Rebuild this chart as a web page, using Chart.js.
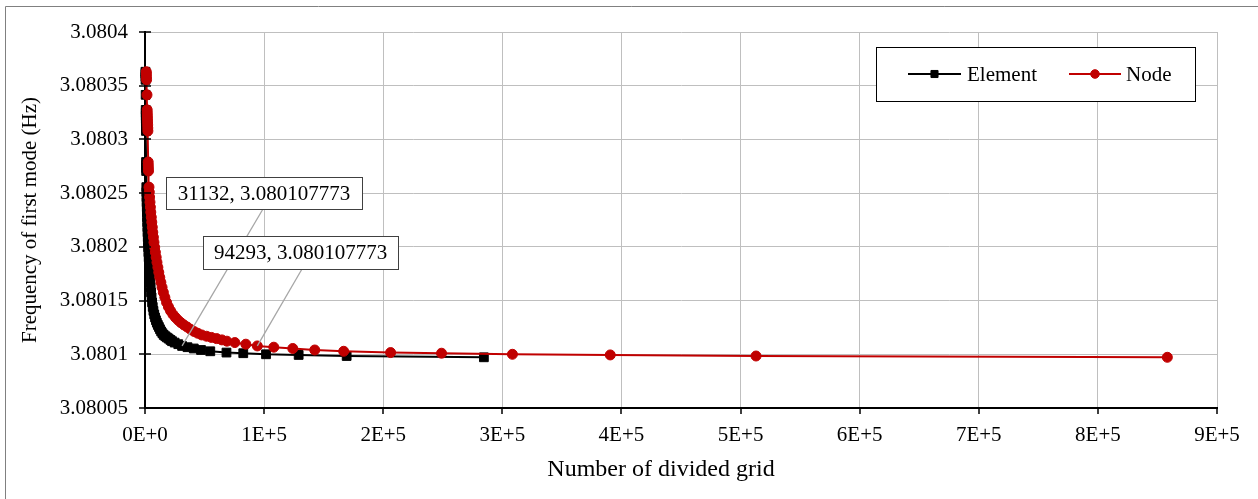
<!DOCTYPE html>
<html><head><meta charset="utf-8">
<script src="https://cdn.jsdelivr.net/npm/chart.js@4.4.0/dist/chart.umd.min.js"></script>
<style>html,body{margin:0;padding:0;background:#fff;}canvas{display:block;}</style>
</head><body>
<canvas id="c" width="1258" height="499"></canvas>
<script>
// ---- data ----
const seriesNames = ['Element', 'Node'];
const elementCount = [360,387,415,443,553,609,636,664,692,719,747,775,802,885,913,941,968,
  1107,1189,1273,1383,1494,1605,1743,1881,2019,2158,2324,2490,2684,2877,3098,3319,3569,3817,
  4094,4398,4730,5090,5505,5975,6501,7082,7746,8437,9184,9959,10789,11674,12587,13555,14606,
  15713,17068,18396,19835,21300,22685,24898,27941,31132,35686,40943,47029,54800,68400,82500,
  101600,129000,169300,284500];
const nodeCount = [1090,1173,1257,1341,1676,1844,1928,2012,2096,2179,2263,2347,2431,2682,2766,2850,2934,
  3353,3604,3856,4191,4526,4862,5281,5700,6119,6538,7041,7544,8131,8717,9388,10058,10813,11567,
  12405,13327,14333,15423,16680,18105,19698,21458,23470,25565,27828,30175,32690,35372,38138,41072,44257,
  47610,51717,55741,60101,64541,68734,75440,84660,94293,108130,124057,142498,166806,206203,248952,
  308466,390612,512992,858300];
const frequency = [3.0803630,3.0803611,3.0803583,3.0803555,3.0803415,3.0803275,3.0803247,3.0803219,
  3.0803191,3.0803163,3.0803135,3.0803107,3.0803079,3.0802790,3.0802762,3.0802734,3.0802706,
  3.0802556,3.0802510,3.0802463,3.0802416,3.0802370,3.0802323,3.0802276,3.0802230,3.0802183,
  3.0802136,3.0802090,3.0802043,3.0801996,3.0801950,3.0801903,3.0801856,3.0801810,3.0801763,
  3.0801716,3.0801670,3.0801623,3.0801576,3.0801530,3.0801483,3.0801441,3.0801404,3.0801371,
  3.0801343,3.0801317,3.0801294,3.0801273,3.0801254,3.0801233,3.0801213,3.0801196,3.0801180,
  3.0801168,3.0801157,3.0801146,3.0801134,3.0801122,3.0801109,3.0801094,3.080107773,3.0801066,
  3.0801054,3.0801040,3.0801028,3.0801016,3.0801010,3.0801000,3.0800994,3.0800984,3.0800972];
const xTickValues = [0,100000,200000,300000,400000,500000,600000,700000,800000,900000];
const xTickLabels = ['0E+0','1E+5','2E+5','3E+5','4E+5','5E+5','6E+5','7E+5','8E+5','9E+5'];
const yTickValues = [3.08005,3.0801,3.08015,3.0802,3.08025,3.0803,3.08035,3.0804];
const yTickLabels = ['3.08005','3.0801','3.08015','3.0802','3.08025','3.0803','3.08035','3.0804'];
const xTitle = 'Number of divided grid';
const yTitle = 'Frequency of first mode (Hz)';
const callouts = [
  {series: 0, index: 60, text: '31132, 3.080107773'},
  {series: 1, index: 60, text: '94293, 3.080107773'}
];

// ---- layout / style ----
const FONT = "'Liberation Serif','Times New Roman',serif";
const FS = 21;
const X_TITLE_FS = 24;
const calloutBoxes = [
  {left: 166, top: 177, width: 196, height: 32, anchorX: 263},
  {left: 203, top: 236, width: 195, height: 33, anchorX: 302}
];
Chart.defaults.font.family = FONT;
Chart.defaults.font.size = FS;
Chart.defaults.color = '#000';

const decor = {
  id: 'decor',
  afterDraw(chart) {
    const ctx = chart.ctx;
    const xs = chart.scales.x, ys = chart.scales.y;
    ctx.save();
    // outer frame
    ctx.strokeStyle = '#808080'; ctx.lineWidth = 1;
    ctx.beginPath(); ctx.moveTo(5.5, 499); ctx.lineTo(5.5, 6.5); ctx.lineTo(1258, 6.5); ctx.stroke();
    // tick marks
    ctx.strokeStyle = '#000'; ctx.lineWidth = 1.5;
    ctx.beginPath();
    yTickValues.forEach(v => { const y = Math.round(ys.getPixelForValue(v)); ctx.moveTo(xs.left - 6, y); ctx.lineTo(xs.left + 6, y); });
    xTickValues.forEach(v => { const x = Math.round(xs.getPixelForValue(v)); ctx.moveTo(x, ys.bottom); ctx.lineTo(x, ys.bottom + 6); });
    ctx.stroke();
    // x axis title
    ctx.fillStyle = '#000'; ctx.font = X_TITLE_FS + 'px ' + FONT;
    ctx.textAlign = 'center'; ctx.textBaseline = 'middle';
    ctx.fillText(xTitle, 661, 470);
    // callouts
    callouts.forEach((c, i) => {
      const b = calloutBoxes[i];
      const pt = chart.getDatasetMeta(c.series).data[c.index];
      ctx.strokeStyle = '#A6A6A6'; ctx.lineWidth = 1.3;
      ctx.beginPath(); ctx.moveTo(b.anchorX, b.top + b.height); ctx.lineTo(pt.x, pt.y); ctx.stroke();
      ctx.fillStyle = '#fff'; ctx.fillRect(b.left, b.top, b.width, b.height);
      ctx.strokeStyle = '#404040'; ctx.lineWidth = 1;
      ctx.strokeRect(b.left + 0.5, b.top + 0.5, b.width, b.height);
      ctx.fillStyle = '#000'; ctx.font = FS + 'px ' + FONT;
      ctx.textAlign = 'center'; ctx.textBaseline = 'middle';
      ctx.fillText(c.text, b.left + b.width / 2, b.top + b.height / 2 + 1);
    });
    // legend
    ctx.fillStyle = '#fff'; ctx.fillRect(876, 47, 320, 54);
    ctx.strokeStyle = '#000'; ctx.lineWidth = 1; ctx.strokeRect(876.5, 47.5, 319, 54);
    const items = [{x0: 908, x1: 961, tx: 967, r: 5}, {x0: 1069, x1: 1121, tx: 1126, r: 4.3}];
    const ly = 74;
    chart.data.datasets.forEach((ds, i) => {
      const it = items[i];
      ctx.strokeStyle = ds.borderColor; ctx.lineWidth = 2;
      ctx.beginPath(); ctx.moveTo(it.x0, ly); ctx.lineTo(it.x1, ly); ctx.stroke();
      ctx.fillStyle = ds.backgroundColor; ctx.lineWidth = 1;
      Chart.helpers.drawPoint(ctx, {pointStyle: ds.pointStyle, radius: it.r, borderWidth: 1}, (it.x0 + it.x1) / 2, ly);
      ctx.fillStyle = '#000'; ctx.font = FS + 'px ' + FONT;
      ctx.textAlign = 'left'; ctx.textBaseline = 'middle';
      ctx.fillText(ds.label, it.tx, ly + 1);
    });
    ctx.restore();
  }
};

const mk = (xs, ys) => xs.map((x, i) => ({x: x, y: ys[i]}));

new Chart(document.getElementById('c').getContext('2d'), {
  type: 'line',
  data: {
    datasets: [
      {label: seriesNames[0], data: mk(elementCount, frequency), borderColor: '#000000', backgroundColor: '#000000',
       borderWidth: 2, pointStyle: 'rect', pointRadius: 6.2, pointBorderWidth: 1, tension: 0, order: 2, clip: false},
      {label: seriesNames[1], data: mk(nodeCount, frequency), borderColor: '#C00000', backgroundColor: '#C00000',
       borderWidth: 2, pointStyle: 'circle', pointRadius: 5, pointBorderWidth: 1, tension: 0, order: 1, clip: false}
    ]
  },
  options: {
    responsive: false, animation: false, devicePixelRatio: 1, events: [],
    layout: {padding: {left: 0, top: 32, right: 41, bottom: 0}},
    plugins: {legend: {display: false}, tooltip: {enabled: false}},
    scales: {
      x: {
        type: 'linear', min: 0, max: 900000,
        afterBuildTicks: s => { s.ticks = xTickValues.map(v => ({value: v})); },
        afterFit: s => { s.height = 91; },
        ticks: {callback: (v, i) => xTickLabels[i], padding: 15, maxRotation: 0, autoSkip: false},
        grid: {color: '#BFBFBF', lineWidth: 1, drawTicks: false},
        border: {display: true, color: '#000', width: 2},
        title: {display: false, text: xTitle}
      },
      y: {
        type: 'linear', min: 3.08005, max: 3.0804,
        afterBuildTicks: s => { s.ticks = yTickValues.map(v => ({value: v})); },
        afterFit: s => { s.width = 145; },
        ticks: {callback: (v, i) => yTickLabels[i], padding: 17, autoSkip: false},
        grid: {color: '#BFBFBF', lineWidth: 1, drawTicks: false},
        border: {display: true, color: '#000', width: 2},
        title: {display: true, text: yTitle, padding: {top: 18, bottom: 0}}
      }
    }
  },
  plugins: [decor]
});
</script>
</body></html>
